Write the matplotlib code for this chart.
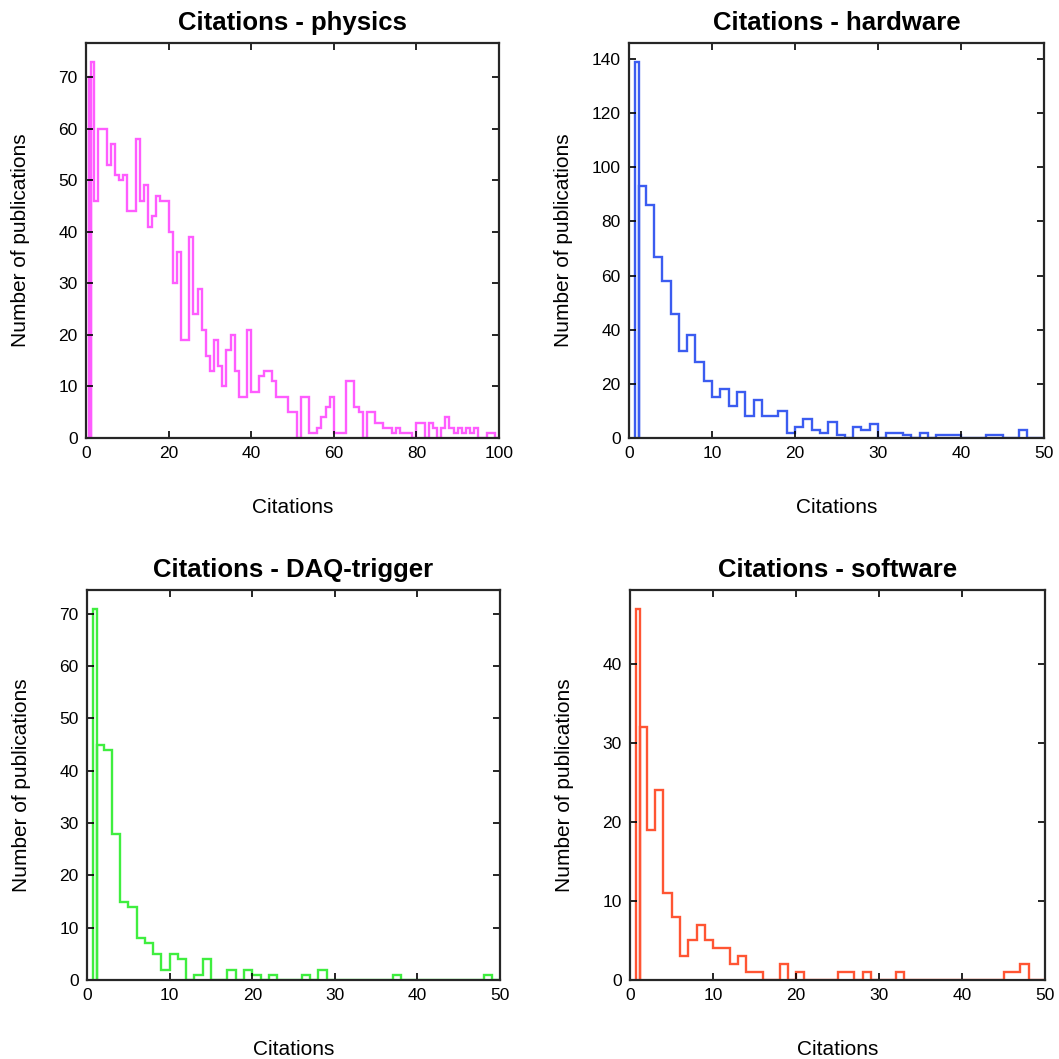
import numpy as np
import matplotlib.pyplot as plt
from matplotlib.ticker import MultipleLocator

plt.rcParams['font.family'] = ['Liberation Sans', 'DejaVu Sans']

# counts: a narrow spike near 1, then one bin per citation from 1 on
physics_spike = 70
physics = [73, 46, 60, 60, 53, 57, 51, 50, 51, 44, 44, 58, 46, 49, 41, 43, 47, 46, 46, 40,
           30, 36, 19, 19, 39, 24, 29, 21, 16, 13, 19, 14, 10, 17, 20, 13, 8, 8, 21, 9,
           9, 12, 13, 13, 11, 8, 8, 8, 5, 5, 0, 8, 8, 1, 1, 2, 4, 6, 8, 1,
           1, 1, 11, 11, 6, 5, 0, 5, 5, 3, 3, 2, 2, 1, 2, 1, 1, 1, 0, 3,
           3, 0, 3, 2, 0, 2, 4, 2, 1, 2, 1, 2, 1, 2, 0, 0, 1, 1, 0]

hardware_spike = 139
hardware = [93, 86, 67, 58, 46, 32, 38, 28, 21, 15, 18, 12, 17, 8, 14, 8, 8, 10, 2, 4,
            7, 3, 2, 6, 1, 0, 4, 3, 5, 0, 2, 2, 1, 0, 2, 0, 1, 1, 1, 0,
            0, 0, 1, 1, 0, 0, 3, 0, 0]

daq_spike = 71
daq = [45, 44, 28, 15, 14, 8, 7, 5, 2, 5, 4, 0, 1, 4, 0, 0, 2, 0, 2, 1,
       0, 1, 0, 0, 0, 1, 0, 2, 0, 0, 0, 0, 0, 0, 0, 0, 1, 0, 0, 0,
       0, 0, 0, 0, 0, 0, 0, 1, 0]

software_spike = 47
software = [32, 19, 24, 11, 8, 3, 5, 7, 5, 4, 4, 2, 3, 1, 1, 0, 0, 2, 0, 1,
            0, 0, 0, 0, 1, 1, 0, 1, 0, 0, 0, 1, 0, 0, 0, 0, 0, 0, 0, 0,
            0, 0, 0, 0, 1, 1, 2, 0, 0]

titles = ['Citations - physics', 'Citations - hardware',
          'Citations - DAQ-trigger', 'Citations - software']
spikes = [physics_spike, hardware_spike, daq_spike, software_spike]
series = [physics, hardware, daq, software]
colors = ['#ff5cff', '#3b5cf0', '#3fee3f', '#ff5533']
xmax = [100, 50, 50, 50]
xstep = [20, 10, 10, 10]
ystep = [10, 20, 10, 10]

fig = plt.figure(figsize=(10.59, 10.59), dpi=100)
rects = [[0.0812, 0.5864, 0.3900, 0.3730],
         [0.5940, 0.5864, 0.3919, 0.3730],
         [0.0822, 0.0746, 0.3900, 0.3683],
         [0.5950, 0.0746, 0.3919, 0.3683]]

for i in range(4):
    ax = fig.add_axes(rects[i])
    counts = np.array(series[i])
    edges = np.concatenate([[1.15], np.arange(2, len(counts) + 2)])
    ax.stairs([spikes[i]], [0.75, 1.15], color=colors[i], lw=1.7, baseline=0)
    ax.stairs(counts, edges, color=colors[i], lw=1.7, baseline=0)
    top = max(spikes[i], counts.max())
    ax.set_xlim(0, xmax[i])
    ax.set_ylim(0, 1.05 * top)
    ax.xaxis.set_major_locator(MultipleLocator(xstep[i]))
    ax.yaxis.set_major_locator(MultipleLocator(ystep[i]))
    ax.tick_params(direction='in', top=True, right=True, length=5, width=1.2,
                   labelsize=12.5, pad=6)
    for s in ax.spines.values():
        s.set_linewidth(1.6)
        s.set_color('#262626')
    ax.set_title(titles[i], fontsize=18.5, fontweight='bold', pad=9)
    ax.set_xlabel('Citations', fontsize=15)
    ax.set_ylabel('Number of publications', fontsize=15)
    ax.xaxis.set_label_coords(0.5, -0.153)
    ax.yaxis.set_label_coords(-0.135, 0.5)

fig.savefig('out.png', dpi=100)
